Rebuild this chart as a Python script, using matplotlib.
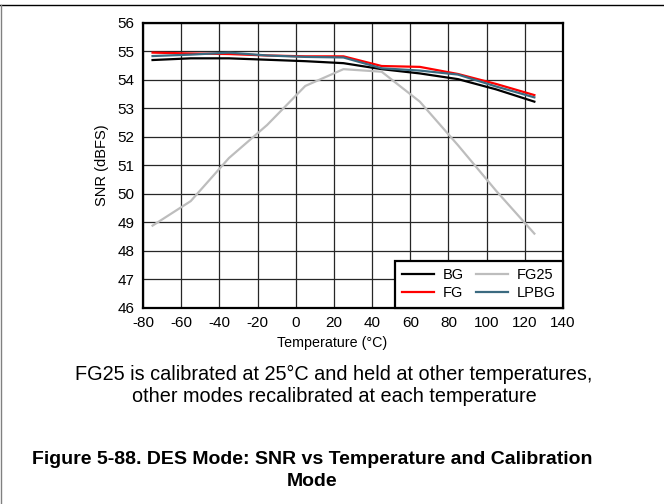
import numpy as np
import matplotlib
matplotlib.use('Agg')
import matplotlib.pyplot as plt
from matplotlib.lines import Line2D

plt.rcParams['font.family'] = ['Liberation Sans', 'DejaVu Sans']
plt.rcParams['axes.unicode_minus'] = False

temps = [-75, -55, -35, -15, 5, 25, 45, 65, 85, 105, 125]
snr_bg = [54.69, 54.75, 54.75, 54.70, 54.65, 54.58, 54.37, 54.22, 54.02, 53.66, 53.23]
snr_fg = [54.95, 54.92, 54.90, 54.85, 54.82, 54.82, 54.48, 54.45, 54.20, 53.85, 53.46]
snr_fg25 = [48.88, 49.74, 51.25, 52.41, 53.78, 54.37, 54.28, 53.23, 51.70, 50.10, 48.60]
snr_lpbg = [54.83, 54.88, 54.95, 54.85, 54.80, 54.78, 54.40, 54.32, 54.18, 53.76, 53.38]

x_ticks = np.arange(-80, 141, 20)
y_ticks = np.arange(46, 57, 1)

fig = plt.figure(figsize=(6.64, 5.04), dpi=100)
ax = fig.add_axes([143 / 664, 1 - 307.7 / 504, 420 / 664, 285 / 504])

ax.plot(temps, snr_bg, color='black', lw=1.6, label='BG')
ax.plot(temps, snr_fg25, color='#bdbdbd', lw=1.6, label='FG25')
ax.plot(temps, snr_fg, color='#ff0000', lw=1.6, label='FG')
ax.plot(temps, snr_lpbg, color='#3b6a80', lw=1.6, label='LPBG')

ax.set_xlim(-80, 140)
ax.set_ylim(46, 56)
ax.set_xticks(x_ticks)
ax.set_yticks(y_ticks)
ax.tick_params(length=0, labelsize=11, pad=6)
ax.grid(True, color='0.15', lw=0.9)
for s in ax.spines.values():
    s.set_linewidth(1.6)
    s.set_color('black')

ax.set_ylabel('SNR (dBFS)', fontsize=10.5, labelpad=6)
fig.text(332 / 664, 1 - 343 / 504, 'Temperature (\u00b0C)', ha='center', va='center', fontsize=10.3)

# legend order: BG, FG / FG25, LPBG (column-wise)
h, l = ax.get_legend_handles_labels()
order = [0, 2, 1, 3]
leg = ax.legend([h[i] for i in order], [l[i] for i in order], ncol=2, loc='lower right',
                borderaxespad=0, fancybox=False, framealpha=1, edgecolor='black',
                fontsize=10.5, handlelength=2.2, handletextpad=0.6, columnspacing=0.8,
                labelspacing=0.3, borderpad=0.5)
leg.get_frame().set_linewidth(1.6)

fig.text(334 / 664, 1 - 374 / 504, 'FG25 is calibrated at 25\u00b0C and held at other temperatures,',
         ha='center', va='center', fontsize=14.3)
fig.text(334 / 664, 1 - 397 / 504, 'other modes recalibrated at each temperature',
         ha='center', va='center', fontsize=14.3)
fig.text(312 / 664, 1 - 459 / 504, 'Figure 5-88. DES Mode: SNR vs Temperature and Calibration',
         ha='center', va='center', fontsize=14, fontweight='bold')
fig.text(312 / 664, 1 - 481 / 504, 'Mode', ha='center', va='center', fontsize=14, fontweight='bold')

# page frame
fig.add_artist(Line2D([0, 1], [1 - 5 / 504, 1 - 5 / 504], color='black', lw=1, transform=fig.transFigure))
fig.add_artist(Line2D([1 / 664, 1 / 664], [0, 1 - 5 / 504], color='0.5', lw=1, transform=fig.transFigure))

fig.savefig('out.png', dpi=100)
